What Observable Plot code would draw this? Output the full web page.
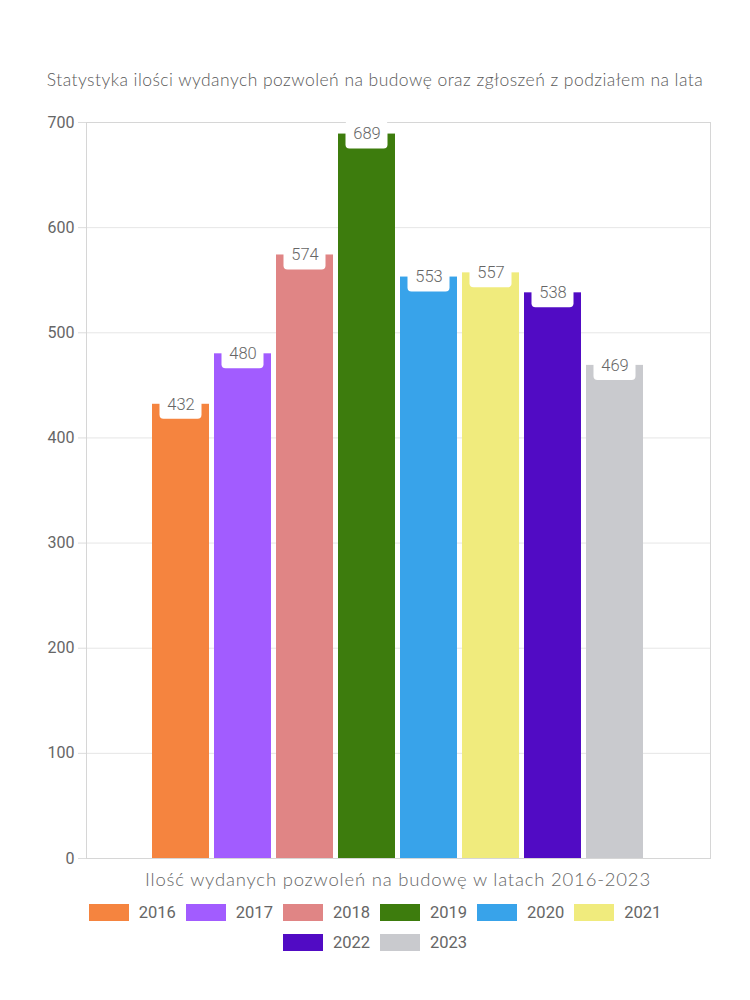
<!DOCTYPE html>
<html><head><meta charset="utf-8">
<script src="https://cdn.jsdelivr.net/npm/d3@7"></script>
<script src="https://cdn.jsdelivr.net/npm/@observablehq/plot@0.6"></script>
<style>
body{margin:0;background:#fff;}
#wrap{position:relative;width:750px;height:1000px;font-family:Lato,"Noto Sans",sans-serif;}
#chart{position:absolute;top:0;left:0;}
#title{position:absolute;top:69px;left:0;width:750px;text-align:center;font-size:17.5px;letter-spacing:0.45px;color:#5a5a5a;font-weight:300;}
#xtitle{position:absolute;top:868px;left:86px;width:624px;text-align:center;font-size:18.5px;letter-spacing:0.8px;color:#666;font-weight:300;}
#legend{position:absolute;top:903px;left:70px;width:610px;display:flex;flex-wrap:wrap;justify-content:center;row-gap:11px;font-family:Roboto,sans-serif;font-size:16.5px;color:#666;}
.item{display:flex;align-items:center;margin:0 5px;}
.sw{width:40px;height:17px;margin-right:10px;}
</style></head>
<body>
<div id="wrap">
  <div id="chart"></div>
  <div id="title"></div>
  <div id="xtitle"></div>
  <div id="legend"></div>
</div>
<script>
const titleText = "Statystyka ilości wydanych pozwoleń na budowę oraz zgłoszeń z podziałem na lata";
const xTitleText = "Ilość wydanych pozwoleń na budowę w latach 2016-2023";
const years = ["2016","2017","2018","2019","2020","2021","2022","2023"];
const values = [432,480,574,689,553,557,538,469];
const colors = ["#F5843F","#A25CFF","#E08585","#3D7C0D","#38A3EA","#F0EB7D","#510BC4","#C9CACE"];
const yTicks = [0,100,200,300,400,500,600,700];

const data = years.map((y,i)=>({year:y, value:values[i]}));

document.getElementById("title").textContent = titleText;
document.getElementById("xtitle").textContent = xTitleText;

const chart = Plot.plot({
  width:750, height:900,
  marginTop:122, marginBottom:42, marginLeft:86, marginRight:40,
  style:{background:"transparent", fontFamily:"Roboto, sans-serif"},
  x:{domain:years, range:[150,645], paddingInner:0.087, paddingOuter:0, axis:null},
  y:{domain:[0,700], axis:null},
  color:{domain:years, range:colors},
  marks:[
    Plot.gridY(yTicks, {stroke:"#e6e6e6", strokeOpacity:1}),
    Plot.frame({stroke:"#d6d6d6"}),
    Plot.axisY(yTicks, {tickSize:8, tickPadding:4, fontSize:16, color:"#666", stroke:"#dcdcdc", label:null}),
    Plot.barY(data, {x:"year", y:"value", fill:"year"}),
    Plot.barY(data, {x:"year", y1:"value", y2:"value", fill:"white", insetTop:-13, insetBottom:-15, insetLeft:7.5, insetRight:7.5, rx:4}),
    Plot.text(data, {x:"year", y:"value", text:d=>String(d.value), fill:"#666", fontSize:16.5, fontWeight:300})
  ]
});
document.getElementById("chart").appendChild(chart);

const legend = document.getElementById("legend");
years.forEach((y,i)=>{
  const it = document.createElement("div"); it.className="item";
  const sw = document.createElement("div"); sw.className="sw"; sw.style.background=colors[i];
  const t = document.createElement("span"); t.textContent=y;
  it.appendChild(sw); it.appendChild(t); legend.appendChild(it);
});
</script>
</body></html>
